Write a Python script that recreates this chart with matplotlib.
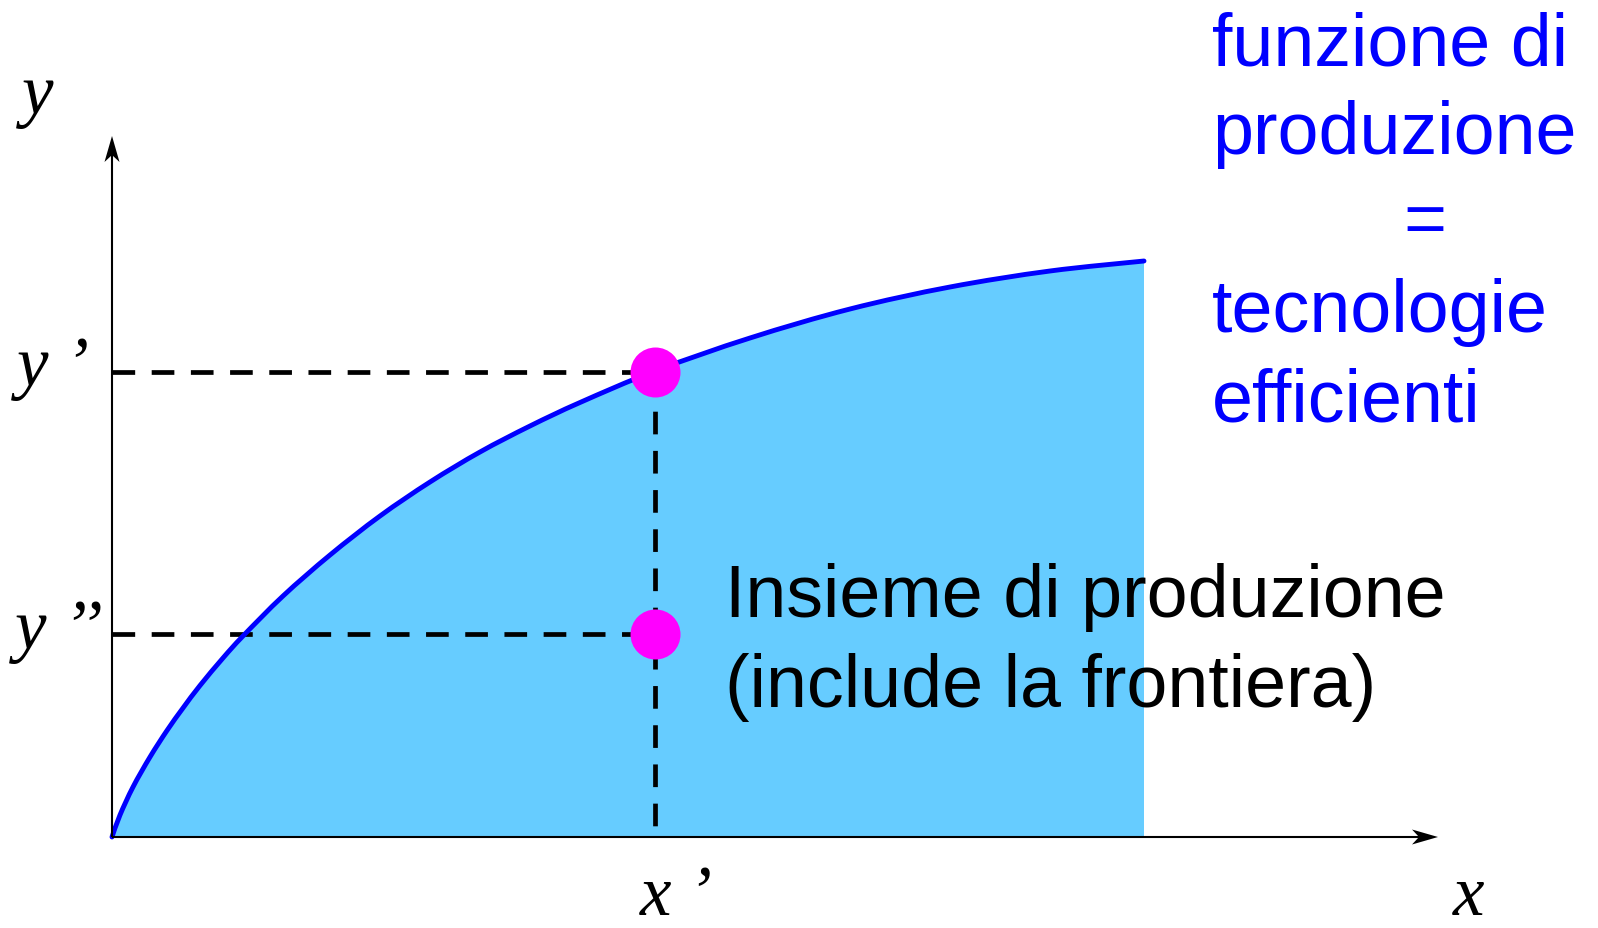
import matplotlib
matplotlib.use("Agg")
import matplotlib.pyplot as plt
from matplotlib.path import Path
from matplotlib.patches import PathPatch, Polygon

# ---- data (units: 1 = 100 px) ----
curve_x = [0.0, 0.08, 0.21, 0.38, 0.55, 0.71, 0.88, 1.11, 1.31, 1.71, 2.18, 2.68,
           3.18, 3.68, 4.18, 4.68, 5.43, 6.38, 7.38, 8.38, 9.38, 10.32]
curve_y = [0.0, 0.22, 0.50, 0.80, 1.065, 1.29, 1.515, 1.79, 2.01, 2.41, 2.82, 3.21,
           3.55, 3.85, 4.11, 4.345, 4.66, 4.99, 5.28, 5.50, 5.66, 5.76]
x_prime = 5.43
y_prime = 4.65
y_second = 2.03
x_axis_end = 13.26
y_axis_end = 7.01

blue_lines = ["funzione di", "produzione", "=", "tecnologie", "efficienti"]
black_lines = ["Insieme di produzione", "(include la frontiera)"]
label_y = "y"
label_yp = "y \u2019"
label_ypp = "y \u2019\u2019"
label_xp = "x \u2019"
label_x = "x"

# ---- figure ----
fig = plt.figure(figsize=(15.98, 9.29), dpi=100)
ax = fig.add_axes([0, 0, 1, 1])
ax.set_xlim(-1.12, 14.86)
ax.set_ylim(-0.91, 8.38)
ax.axis("off")

fill_c = "#66CCFF"
blue = "#0000FF"
mag = "#FF00FF"


def smooth_path_vertices(xs, ys):
    """Catmull-Rom -> cubic Bezier control points for a smooth rendering."""
    pts = list(zip(xs, ys))
    n = len(pts)
    verts = [pts[0]]
    codes = [Path.MOVETO]
    for i in range(n - 1):
        p0 = pts[i - 1] if i > 0 else pts[i]
        p1 = pts[i]
        p2 = pts[i + 1]
        p3 = pts[i + 2] if i + 2 < n else pts[i + 1]
        c1 = (p1[0] + (p2[0] - p0[0]) / 6.0, p1[1] + (p2[1] - p0[1]) / 6.0)
        c2 = (p2[0] - (p3[0] - p1[0]) / 6.0, p2[1] - (p3[1] - p1[1]) / 6.0)
        verts += [c1, c2, p2]
        codes += [Path.CURVE4] * 3
    return verts, codes


v, c = smooth_path_vertices(curve_x, curve_y)

# filled production set
fv = v + [(curve_x[-1], 0.0), (curve_x[0], 0.0), (curve_x[0], curve_y[0])]
fc = c + [Path.LINETO, Path.LINETO, Path.CLOSEPOLY]
ax.add_patch(PathPatch(Path(fv, fc), facecolor=fill_c, edgecolor="none", zorder=1))

# frontier
ax.add_patch(PathPatch(Path(v, c), facecolor="none", edgecolor=blue, lw=3.5,
                       capstyle="round", zorder=3))

# dashed guides
dash = dict(color="black", lw=3.4, dashes=(4.8, 3.5), zorder=2)
ax.plot([0, x_prime], [y_prime, y_prime], **dash)
ax.plot([0, x_prime], [y_second, y_second], **dash)
ax.plot([x_prime, x_prime], [y_prime, 0], **dash)

# points
ax.plot([x_prime, x_prime], [y_prime, y_second], "o", color=mag, ms=36,
        markeredgewidth=0, zorder=5)

# axes with stealth-like arrow heads
L, W, N = 0.26, 0.075, 0.07
ax.plot([0, x_axis_end - L + N], [0, 0], color="black", lw=1.5, zorder=4,
        solid_capstyle="butt")
ax.plot([0, 0], [0, y_axis_end - L + N], color="black", lw=1.5, zorder=4,
        solid_capstyle="butt")
ax.add_patch(Polygon([(x_axis_end, 0), (x_axis_end - L, W), (x_axis_end - L + N, 0),
                      (x_axis_end - L, -W)], closed=True, color="black", lw=0, zorder=4))
ax.add_patch(Polygon([(0, y_axis_end), (W, y_axis_end - L), (0, y_axis_end - L + N),
                      (-W, y_axis_end - L)], closed=True, color="black", lw=0, zorder=4))

serif = dict(family="Liberation Serif", style="italic", fontsize=51,
             ha="left", va="baseline", color="black")
ax.text(-0.90, 7.24, label_y, **serif)
ax.text(-0.95, 4.52, label_yp, **serif)
ax.text(-0.97, 1.89, label_ypp, **serif)
ax.text(5.28, -0.77, label_xp, **serif)
ax.text(13.41, -0.77, label_x, **serif)

sans = dict(family="Liberation Sans", fontsize=53, va="baseline")
b0 = 7.73
step = 0.89
for i, t in enumerate(blue_lines):
    if t == "=":
        ax.text(13.13, b0 - i * step, t, ha="center", color=blue, **sans)
    else:
        ax.text(11.0, b0 - i * step, t, ha="left", color=blue, **sans)

for i, t in enumerate(black_lines):
    ax.text(6.13, 2.21 - i * 0.90, t, ha="left", color="black", **sans)

fig.savefig("out.png", dpi=100)
